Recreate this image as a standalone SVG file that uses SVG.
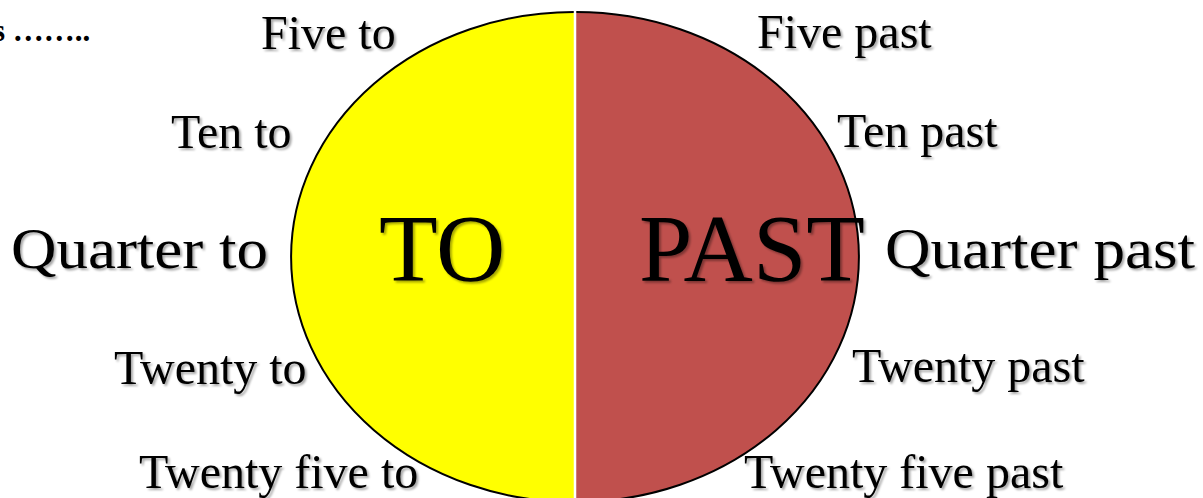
<svg xmlns="http://www.w3.org/2000/svg" width="1203" height="498" viewBox="0 0 1203 498">
<defs>
<filter id="sh" x="-10%" y="-20%" width="130%" height="150%">
<feDropShadow dx="2" dy="2" stdDeviation="1.3" flood-color="#000" flood-opacity="0.35"/>
</filter>
</defs>
<style>
text{font-family:"Liberation Serif","Times New Roman",serif;fill:#000;filter:url(#sh)}
.m{font-size:48px}
.q{font-size:57px}
.b{font-size:96px}
.arc{stroke:#000;stroke-width:2;}
</style>
<rect width="1203" height="498" fill="#fff"/>
<g id="to-half">
<path d="M574,12 A283,245 0 0 0 574,502 Z" fill="#ffff00"/>
<path class="arc" d="M574,12 A283,245 0 0 0 574,502" fill="none"/>
</g>
<g id="past-half">
<path d="M576,12 A283,245 0 0 1 576,502 Z" fill="#c0504d"/>
<path class="arc" d="M576,12 A283,245 0 0 1 576,502" fill="none"/>
</g>
<line x1="575" y1="10" x2="575" y2="498" stroke="#fff" stroke-width="2.5"/>
<g id="header"><text x="-7" y="41" style="font-size:31px;font-weight:bold;filter:none">s ……..</text></g>
<g id="big-labels">
<text class="b" x="379" y="281">TO</text>
<text class="b" x="639" y="281">PAST</text>
</g>
<g id="to-labels">
<text class="m" x="261" y="49">Five to</text>
<text class="m" x="171" y="148">Ten to</text>
<text class="q" x="11" y="268" textLength="257" lengthAdjust="spacingAndGlyphs">Quarter to</text>
<text class="m" x="114" y="384">Twenty to</text>
<text class="m" x="139" y="488">Twenty five to</text>
</g>
<g id="past-labels">
<text class="m" x="757" y="48">Five past</text>
<text class="m" x="837" y="147">Ten past</text>
<text class="q" x="885" y="268" textLength="310" lengthAdjust="spacingAndGlyphs">Quarter past</text>
<text class="m" x="852" y="382">Twenty past</text>
<text class="m" x="744" y="488">Twenty five past</text>
</g>
</svg>
